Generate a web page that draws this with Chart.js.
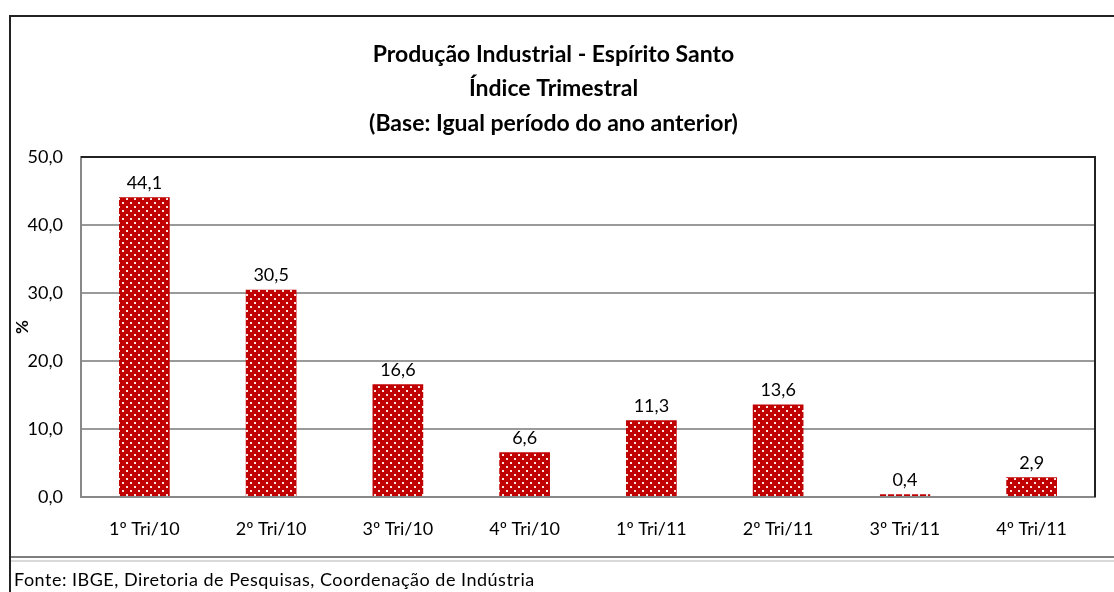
<!DOCTYPE html>
<html>
<head>
<meta charset="utf-8">
<script src="https://cdn.jsdelivr.net/npm/chart.js@4"></script>
<style>
  html, body { margin: 0; padding: 0; background: #fff; overflow: hidden; }
  #wrap { position: relative; width: 1114px; height: 592px; }
  #frame { position: absolute; left: 9px; top: 15px; width: 1200px; height: 700px;
           border-left: 2px solid #222; border-top: 2px solid #222; }
  .rule { position: absolute; left: 11px; width: 1103px; height: 2px; }
  #footer { position: absolute; left: 14px; top: 568px; font: 18px Lato, sans-serif;
            color: #000; letter-spacing: 0.5px; }
  canvas { position: absolute; left: 0; top: 0; }
</style>
</head>
<body>
<div id="wrap">
  <div id="frame"></div>
  <canvas id="chart" width="1114" height="592"></canvas>
  <div class="rule" style="top:556px;background:#7f7f7f"></div>
  <div class="rule" style="top:560px;background:#d9d9d9"></div>
  <div id="footer">Fonte: IBGE, Diretoria de Pesquisas, Coordenação de Indústria</div>
</div>
<script>
const categories = ["1º Tri/10", "2º Tri/10", "3º Tri/10", "4º Tri/10", "1º Tri/11", "2º Tri/11", "3º Tri/11", "4º Tri/11"];
const values = [44.1, 30.5, 16.6, 6.6, 11.3, 13.6, 0.4, 2.9];
const yTicks = [0, 10, 20, 30, 40, 50];
const titleLines = ["Produção Industrial - Espírito Santo", "Índice Trimestral", "(Base: Igual período do ano anterior)"];

const FONT = "Lato, sans-serif";
const fmt = (v) => v.toFixed(1).replace(".", ",");

// red fill with small white dots, like the original pattern fill
function dotPattern() {
  const c = document.createElement("canvas");
  c.width = 8; c.height = 8;
  const g = c.getContext("2d");
  g.fillStyle = "#c00000";
  g.fillRect(0, 0, 8, 8);
  g.fillStyle = "#fbe4e4";
  g.fillRect(2, 2, 2, 2);
  g.fillRect(6, 6, 2, 2);
  return g.createPattern(c, "repeat");
}

const valueLabels = {
  id: "valueLabels",
  afterDatasetsDraw(chart) {
    const ctx = chart.ctx;
    const meta = chart.getDatasetMeta(0);
    ctx.save();
    ctx.font = "18px " + FONT;
    ctx.fillStyle = "#000";
    ctx.textAlign = "center";
    ctx.textBaseline = "bottom";
    meta.data.forEach((bar, i) => {
      ctx.fillText(fmt(values[i]), bar.x, bar.y - 5);
    });
    ctx.restore();
  }
};

const plotBorder = {
  id: "plotBorder",
  afterDraw(chart) {
    const { ctx, chartArea: a } = chart;
    ctx.save();
    ctx.strokeStyle = "#222";
    ctx.lineWidth = 2;
    ctx.beginPath();
    ctx.moveTo(a.left, a.top);
    ctx.lineTo(a.right, a.top);
    ctx.lineTo(a.right, a.bottom);
    ctx.stroke();
    ctx.restore();
  }
};

new Chart(document.getElementById("chart"), {
  type: "bar",
  data: {
    labels: categories,
    datasets: [{
      data: values,
      backgroundColor: dotPattern(),
      barPercentage: 0.4,
      categoryPercentage: 1
    }]
  },
  options: {
    responsive: false,
    animation: false,
    layout: { padding: { top: 15, left: 12, right: 19, bottom: 35 } },
    plugins: {
      legend: { display: false },
      tooltip: { enabled: false },
      title: {
        display: true,
        text: titleLines,
        color: "#000",
        font: { family: FONT, size: 23, weight: "bold", lineHeight: 1.48 },
        padding: { top: 23, bottom: 17 }
      }
    },
    scales: {
      x: {
        grid: { display: false, drawTicks: false },
        border: { color: "#888", width: 2 },
        ticks: { color: "#000", font: { family: FONT, size: 18 }, padding: 21, maxRotation: 0 },
        afterFit(s) { s.height = 60; }
      },
      y: {
        min: 0,
        max: 50,
        afterBuildTicks(s) { s.ticks = yTicks.map(v => ({ value: v })); },
        grid: {
          drawTicks: false,
          color: (c) => c.tick && c.tick.value === 50 ? "rgba(0,0,0,0)" : "#9a9a9a",
          lineWidth: 2
        },
        border: { color: "#888", width: 2 },
        ticks: { color: "#000", font: { family: FONT, size: 18 }, padding: 18, callback: (v) => fmt(v) },
        title: { display: true, text: "%", color: "#000", font: { family: FONT, size: 17, weight: "bold" }, padding: 0 },
        afterFit(s) { s.width = 69; }
      }
    }
  },
  plugins: [valueLabels, plotBorder]
});
</script>
</body>
</html>
